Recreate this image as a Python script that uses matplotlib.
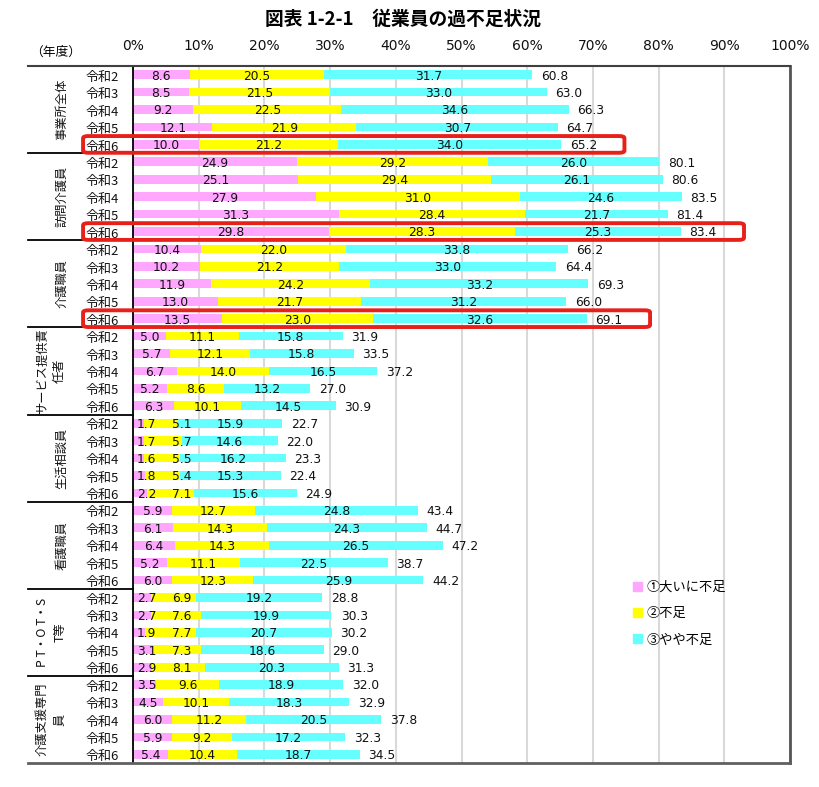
import numpy as np
import matplotlib
matplotlib.use("Agg")
import matplotlib.pyplot as plt
from matplotlib.patches import Patch, FancyBboxPatch

plt.rcParams['font.family'] = ['Noto Sans CJK JP', 'DejaVu Sans']

title = "図表 1-2-1　従業員の過不足状況"
groups = ["事業所全体", "訪問介護員", "介護職員", "サービス提供責\n任者",
          "生活相談員", "看護職員", "P T・O T・S\nT等", "介護支援専門\n員"]
years = ["令和2", "令和3", "令和4", "令和5", "令和6"]
series_names = ["①大いに不足", "②不足", "③やや不足"]
colors = ["#FFA6FF", "#FFFF00", "#66FFFF"]

# ①大いに不足
very_short = [[8.6, 8.5, 9.2, 12.1, 10.0],
              [24.9, 25.1, 27.9, 31.3, 29.8],
              [10.4, 10.2, 11.9, 13.0, 13.5],
              [5.0, 5.7, 6.7, 5.2, 6.3],
              [1.7, 1.7, 1.6, 1.8, 2.2],
              [5.9, 6.1, 6.4, 5.2, 6.0],
              [2.7, 2.7, 1.9, 3.1, 2.9],
              [3.5, 4.5, 6.0, 5.9, 5.4]]
# ②不足
short = [[20.5, 21.5, 22.5, 21.9, 21.2],
         [29.2, 29.4, 31.0, 28.4, 28.3],
         [22.0, 21.2, 24.2, 21.7, 23.0],
         [11.1, 12.1, 14.0, 8.6, 10.1],
         [5.1, 5.7, 5.5, 5.4, 7.1],
         [12.7, 14.3, 14.3, 11.1, 12.3],
         [6.9, 7.6, 7.7, 7.3, 8.1],
         [9.6, 10.1, 11.2, 9.2, 10.4]]
# ③やや不足
slightly_short = [[31.7, 33.0, 34.6, 30.7, 34.0],
                  [26.0, 26.1, 24.6, 21.7, 25.3],
                  [33.8, 33.0, 33.2, 31.2, 32.6],
                  [15.8, 15.8, 16.5, 13.2, 14.5],
                  [15.9, 14.6, 16.2, 15.3, 15.6],
                  [24.8, 24.3, 26.5, 22.5, 25.9],
                  [19.2, 19.9, 20.7, 18.6, 20.3],
                  [18.9, 18.3, 20.5, 17.2, 18.7]]
# 合計
totals = [[60.8, 63.0, 66.3, 64.7, 65.2],
          [80.1, 80.6, 83.5, 81.4, 83.4],
          [66.2, 64.4, 69.3, 66.0, 69.1],
          [31.9, 33.5, 37.2, 27.0, 30.9],
          [22.7, 22.0, 23.3, 22.4, 24.9],
          [43.4, 44.7, 47.2, 38.7, 44.2],
          [28.8, 30.3, 30.2, 29.0, 31.3],
          [32.0, 32.9, 37.8, 32.3, 34.5]]
# highlighted rows (group, year)
highlight = [(0, 4), (1, 4), (2, 4)]

W, H = 820, 787
fig = plt.figure(figsize=(W / 100, H / 100), dpi=100)
ax = fig.add_axes([133 / W, 1 - 763 / H, 657 / W, 697 / H])

p = np.array(very_short).ravel()
s = np.array(short).ravel()
c = np.array(slightly_short).ravel()
t = np.array(totals).ravel()
n = len(p)
y = np.arange(n) + 0.5

bh = 0.5
ax.barh(y, p, height=bh, color=colors[0], zorder=2)
ax.barh(y, s, left=p, height=bh, color=colors[1], zorder=2)
ax.barh(y, c, left=p + s, height=bh, color=colors[2], zorder=2)

num_font = dict(family='DejaVu Sans', fontsize=8.8, color='#111111')
for i in range(n):
    yy = y[i] + 0.08
    px = max(p[i] / 2, 2.1)
    sx = max(p[i] + s[i] / 2, px + 5.3)
    cx = max(p[i] + s[i] + c[i] / 2, sx + 6)
    ax.text(px, yy, f"{p[i]:.1f}", ha='center', va='center', zorder=3, **num_font)
    ax.text(sx, yy, f"{s[i]:.1f}", ha='center', va='center', zorder=3, **num_font)
    ax.text(cx, yy, f"{c[i]:.1f}", ha='center', va='center', zorder=3, **num_font)
    ax.text(t[i] + 1.3, yy, f"{t[i]:.1f}", ha='left', va='center', zorder=3, **num_font)
    ax.text(-7.2, y[i] + 0.15, years[i % len(years)], ha='left', va='center',
            fontsize=9.4, color='#111111')

ax.set_xlim(0, 100)
ax.set_ylim(n, 0)
ax.set_xticks(np.arange(0, 101, 10))
ax.set_xticklabels([f"{v}%" for v in range(0, 101, 10)], family='DejaVu Sans', fontsize=10)
ax.xaxis.tick_top()
ax.tick_params(axis='x', length=0, pad=9, colors='#111111')
ax.set_yticks([])
ax.grid(axis='x', color='#d9d9d9', linewidth=1.5, zorder=0)
ax.set_axisbelow(True)

for side in ['top', 'bottom']:
    ax.spines[side].set_visible(False)
ax.spines['left'].set_color('black')
ax.spines['left'].set_linewidth(1.3)
ax.spines['right'].set_color('#555555')
ax.spines['right'].set_linewidth(2)

xl = -16
ax.plot([xl, 100], [0, 0], color='#404040', lw=1.5, clip_on=False, zorder=4)
ax.plot([xl, 100], [n, n], color='#606060', lw=2, clip_on=False, zorder=4)
ng = len(groups)
ny = len(years)
for g in range(1, ng):
    ax.plot([xl, 0], [g * ny, g * ny], color='black', lw=1.3, clip_on=False)

for g, name in enumerate(groups):
    nl = name.count("\n")
    gx = -10.8 - 1.7 * nl
    ax.text(gx, g * ny + ny / 2, name, rotation=90, ha='center', va='center',
            fontsize=8.8, multialignment='center', linespacing=1.45, color='#111111')

for g, k in highlight:
    r = g * ny + k
    box = FancyBboxPatch((-7.6, r + 0.02), t[r] + 9.6 + 7.6, 0.96,
                         boxstyle="round,pad=0,rounding_size=0.8",
                         mutation_aspect=1 / 6.5,
                         fill=False, edgecolor='#E8201A', lw=2.8,
                         clip_on=False, zorder=5)
    ax.add_patch(box)

handles = [Patch(color=col) for col in colors]
fig.legend(handles, series_names, loc='upper left',
           bbox_to_anchor=(633 / W, 1 - 581 / H), frameon=False,
           fontsize=9.5, handlelength=0.7, handleheight=0.7,
           handletextpad=0.3, labelspacing=1.0, borderpad=0, borderaxespad=0)

fig.text(403 / W, 1 - 19 / H, title, ha='center', va='center',
         fontsize=13.5, fontweight='bold')
fig.text(56 / W, 1 - 52 / H, "（年度）", ha='center', va='center', fontsize=9.2)

fig.savefig("out.png", dpi=100)
